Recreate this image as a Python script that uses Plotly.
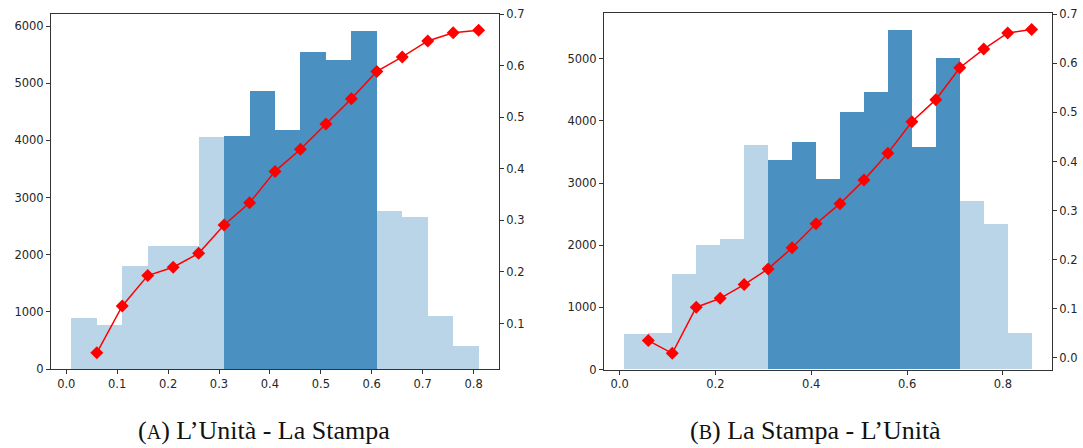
import plotly.graph_objects as go

# ---- panel A: L'Unità - La Stampa ----
a_edges_start = 0.01
bin_width = 0.05
a_counts = [886, 764, 1795, 2145, 2145, 4061,
            4075, 4872, 4178, 5547, 5414, 5915,
            2762, 2663, 927, 402]
a_dark = [False] * 6 + [True] * 6 + [False] * 4
a_line_x = [0.06, 0.11, 0.16, 0.21, 0.26, 0.31, 0.36, 0.41,
            0.46, 0.51, 0.56, 0.61, 0.66, 0.71, 0.76, 0.81]
a_line_y = [0.043, 0.134, 0.193, 0.209, 0.236, 0.291, 0.334, 0.395,
            0.438, 0.487, 0.536, 0.589, 0.617, 0.648, 0.664, 0.669]

# ---- panel B: La Stampa - L'Unità ----
b_counts = [560, 587, 1535, 2006, 2087, 3604,
            3363, 3657, 3063, 4145, 4457, 5458, 3582, 5013,
            2708, 2339, 576]
b_dark = [False] * 6 + [True] * 8 + [False] * 3
b_line_x = [0.06, 0.11, 0.16, 0.21, 0.26, 0.31, 0.36, 0.41, 0.46,
            0.51, 0.56, 0.61, 0.66, 0.71, 0.76, 0.81, 0.86]
b_line_y = [0.035, 0.009, 0.103, 0.121, 0.149, 0.181, 0.224, 0.273, 0.314,
            0.362, 0.417, 0.481, 0.526, 0.591, 0.629, 0.662, 0.669]

a_xticks = [0.0, 0.1, 0.2, 0.3, 0.4, 0.5, 0.6, 0.7, 0.8]
b_xticks = [0.0, 0.2, 0.4, 0.6, 0.8]
a_yticks = [0, 1000, 2000, 3000, 4000, 5000, 6000]
b_yticks = [0, 1000, 2000, 3000, 4000, 5000]
a_y2ticks = [0.1, 0.2, 0.3, 0.4, 0.5, 0.6, 0.7]
b_y2ticks = [0.0, 0.1, 0.2, 0.3, 0.4, 0.5, 0.6, 0.7]

captions = ["(<span style='font-size:20px'>A</span>) L\u2019Unità - La Stampa",
            "(<span style='font-size:20px'>B</span>) La Stampa - L\u2019Unità"]

LIGHT = "#bad5e8"
DARK = "#4a91c2"
RED = "#ff0000"
TICK_FONT = dict(family="DejaVu Sans", size=11.5, color="#262626")
LINE_COLOR = "#333333"

W, H = 1083, 448


def padded(lo, hi, frac=0.05):
    span = hi - lo
    return [lo - frac * span, hi + frac * span]


fig = go.Figure()

panels = [
    dict(counts=a_counts, dark=a_dark, lx=a_line_x, ly=a_line_y,
         xt=a_xticks, yt=a_yticks, y2t=a_y2ticks,
         dom=[51 / W, 499 / W], ydom=[79 / H, 434 / H]),
    dict(counts=b_counts, dark=b_dark, lx=b_line_x, ly=b_line_y,
         xt=b_xticks, yt=b_yticks, y2t=b_y2ticks,
         dom=[604 / W, 1052 / W], ydom=[78.5 / H, 434.7 / H]),
]

for i, p in enumerate(panels):
    n = len(p["counts"])
    centers = [a_edges_start + bin_width * (k + 0.5) for k in range(n)]
    colors = [DARK if d else LIGHT for d in p["dark"]]
    xa = "x" if i == 0 else "x2"
    ya = "y" if i == 0 else "y3"
    ya2 = "y2" if i == 0 else "y4"

    fig.add_trace(go.Bar(x=centers, y=p["counts"], width=bin_width,
                         marker=dict(color=colors, line=dict(width=0)),
                         xaxis=xa, yaxis=ya, showlegend=False))
    fig.add_trace(go.Scatter(x=p["lx"], y=p["ly"], mode="lines+markers",
                             line=dict(color=RED, width=1.5),
                             marker=dict(symbol="diamond", size=10, color=RED),
                             xaxis=xa, yaxis=ya2, showlegend=False))

    left_edge = a_edges_start
    right_edge = a_edges_start + bin_width * n
    xr = padded(left_edge, right_edge)
    yr = [0, max(p["counts"]) * 1.05]
    y2r = padded(min(p["ly"]), max(p["ly"]))

    common = dict(showline=True, linecolor=LINE_COLOR, linewidth=1,
                  ticks="outside", ticklen=4, tickwidth=1, tickcolor=LINE_COLOR,
                  tickfont=TICK_FONT, showgrid=False, zeroline=False,
                  automargin=False)

    xkey = "xaxis" if i == 0 else "xaxis2"
    ykey = "yaxis" if i == 0 else "yaxis3"
    y2key = "yaxis2" if i == 0 else "yaxis4"
    yname = "y" if i == 0 else "y3"
    xname = "x" if i == 0 else "x2"

    fig.update_layout(**{
        xkey: dict(domain=p["dom"], range=xr, anchor=yname, mirror=True,
                   tickvals=p["xt"], ticktext=[f"{v:.1f}" for v in p["xt"]],
                   **common),
        ykey: dict(domain=p["ydom"], range=yr, anchor=xname,
                   tickvals=p["yt"], ticktext=[str(v) for v in p["yt"]],
                   **common),
        y2key: dict(range=y2r, anchor=xname, overlaying=yname, side="right",
                    tickvals=p["y2t"], ticktext=[f"{v:.1f}" for v in p["y2t"]],
                    **common),
    })

fig.add_annotation(text=captions[0], x=264 / W, y=(448 - 430) / H,
                   xref="paper", yref="paper", showarrow=False,
                   xanchor="center", yanchor="middle",
                   font=dict(family="Liberation Serif", size=26, color="#111111"))
fig.add_annotation(text=captions[1], x=815.5 / W, y=(448 - 430) / H,
                   xref="paper", yref="paper", showarrow=False,
                   xanchor="center", yanchor="middle",
                   font=dict(family="Liberation Serif", size=26, color="#111111"))

fig.update_layout(width=W, height=H, margin=dict(l=0, r=0, t=0, b=0, autoexpand=False),
                  paper_bgcolor="white", plot_bgcolor="white",
                  bargap=0, barmode="overlay")

fig.write_html("out.html")
